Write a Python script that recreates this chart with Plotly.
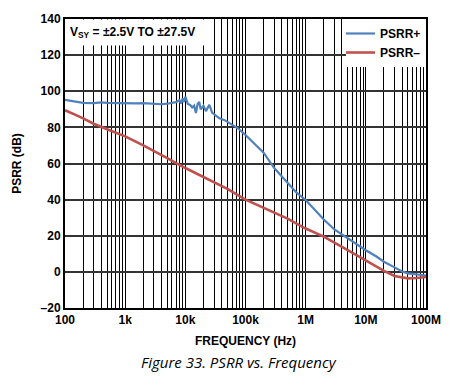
import plotly.graph_objects as go

# ---- data ----
freq_pos = [100, 130, 160, 200, 300, 400, 500, 700, 1e3, 1.5e3, 2e3, 3e3, 4e3, 5e3, 6e3, 7e3,
            8e3, 8.5e3, 9e3, 9.5e3, 10e3, 10.5e3, 11e3, 12e3, 13e3, 14e3, 15e3, 16e3, 17e3, 18e3,
            20e3, 22e3, 25e3, 28e3, 32e3, 37e3, 45e3, 55e3, 75e3, 100e3, 150e3, 200e3, 300e3,
            500e3, 700e3, 1e6, 2e6, 3e6, 5e6, 7e6, 10e6, 15e6, 20e6, 30e6, 40e6, 50e6, 70e6, 100e6]
psrr_pos = [95.2, 94.5, 94.0, 93.6, 93.4, 93.8, 93.6, 93.4, 93.5, 93.3, 93.4, 93.0, 92.8, 93.1, 93.5, 94.0,
            95.0, 93.2, 96.0, 94.0, 97.0, 95.0, 93.0, 92.4, 91.0, 92.0, 88.0, 93.0, 94.0, 90.0,
            92.0, 89.0, 92.5, 88.0, 86.5, 85.0, 84.0, 82.3, 79.5, 75.8, 70.0, 66.0, 57.5,
            49.0, 44.0, 39.8, 29.0, 23.5, 18.5, 15.3, 12.0, 8.5, 5.6, 2.5, 0.2, -0.8, -1.5, -2.0]

freq_neg = [100, 130, 160, 200, 300, 500, 700, 1e3, 2e3, 3e3, 5e3, 10e3, 20e3, 50e3, 100e3,
            200e3, 500e3, 1e6, 2e6, 5e6, 10e6, 20e6, 30e6, 50e6, 70e6, 100e6]
psrr_neg = [89.5, 88.0, 86.5, 85.0, 82.0, 79.0, 77.0, 75.0, 70.0, 67.0, 63.0, 57.5, 52.5, 46.0, 40.0,
            35.5, 29.5, 24.0, 19.5, 12.0, 6.2, 0.5, -2.3, -3.6, -3.4, -2.8]

x_tickvals = [1e2, 1e3, 1e4, 1e5, 1e6, 1e7, 1e8]
x_ticktext = ["100", "1k", "10k", "100k", "1M", "10M", "100M"]
y_tickvals = [-20, 0, 20, 40, 60, 80, 100, 120, 140]
y_ticktext = ["–20", "0", "20", "40", "60", "80", "100", "120", "140"]

FONT = "Liberation Sans, Arial, sans-serif"

fig = go.Figure()
fig.add_trace(go.Scatter(x=freq_pos, y=psrr_pos, mode="lines", name="PSRR+",
                         line=dict(color="#4f81bd", width=2.2)))
fig.add_trace(go.Scatter(x=freq_neg, y=psrr_neg, mode="lines", name="PSRR–",
                         line=dict(color="#c0504d", width=2.6)))

fig.update_layout(
    width=449, height=378,
    margin=dict(l=65, r=23, t=19, b=70, autoexpand=False),
    paper_bgcolor="white", plot_bgcolor="white",
    font=dict(family=FONT, size=12, color="black"),
    showlegend=True,
    legend=dict(x=1, y=1, xanchor="right", yanchor="top", bgcolor="white",
                font=dict(family=FONT, size=12, weight="bold"),
                itemwidth=30, tracegroupgap=0, borderwidth=0,
                indentation=-6),
    xaxis=dict(type="log", range=[2, 8], tickvals=x_tickvals, ticktext=x_ticktext,
               automargin=False,
               showgrid=True, gridcolor="black", gridwidth=1.3,
               minor=dict(dtick="D1", showgrid=True, gridcolor="black", gridwidth=1, ticks=""),
               showline=True, linecolor="black", linewidth=2, mirror=True,
               ticks="", zeroline=False,
               tickfont=dict(family=FONT, size=12, weight="bold")),
    yaxis=dict(range=[-20, 140], tickvals=y_tickvals, ticktext=y_ticktext,
               automargin=False,
               showgrid=True, gridcolor="#333", gridwidth=1.6,
               showline=True, linecolor="black", linewidth=2, mirror=True,
               ticks="", zeroline=False,
               tickfont=dict(family=FONT, size=12, weight="bold"),
               title=dict(text="PSRR (dB)", standoff=16,
                          font=dict(family=FONT, size=12, weight="bold"))),
    annotations=[
        dict(text="V<sub>SY</sub> = ±2.5V TO ±27.5V", xref="paper", yref="paper",
             x=0.0, y=1.0, xanchor="left", yanchor="top", showarrow=False,
             bgcolor="white", borderpad=4, width=130, height=17, align="left",
             font=dict(family=FONT, size=12, weight="bold")),
        dict(text="FREQUENCY (Hz)", xref="paper", yref="paper", x=0.5, y=-0.114,
             xanchor="center", yanchor="middle", showarrow=False,
             font=dict(family=FONT, size=12, weight="bold")),
        dict(text="<i>Figure 33. PSRR vs. Frequency</i>", xref="paper", yref="paper",
             x=0.483, y=-0.187, xanchor="center", yanchor="middle", showarrow=False,
             font=dict(family="Open Sans, sans-serif", size=15)),
    ],
)

fig.write_html("out.html", config={"displayModeBar": False},
               post_script="document.body.style.margin='0';")
